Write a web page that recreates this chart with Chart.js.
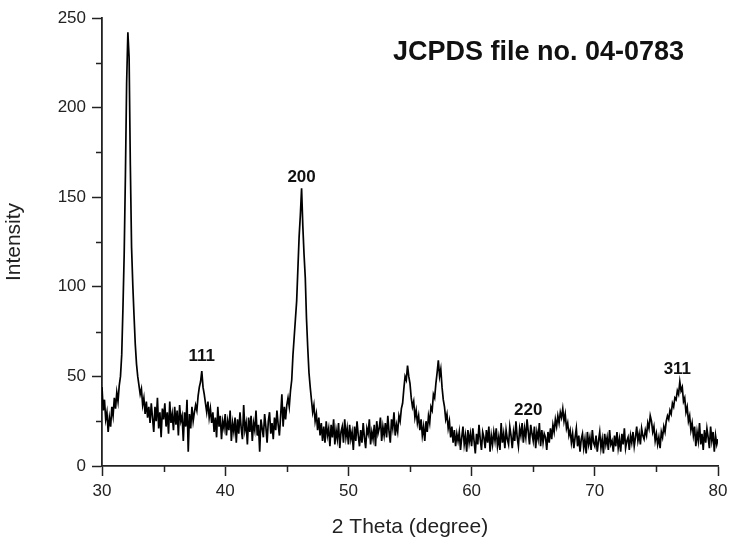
<!DOCTYPE html>
<html>
<head>
<meta charset="utf-8">
<script src="https://cdn.jsdelivr.net/npm/chart.js@4.4.1/dist/chart.umd.min.js"></script>
<style>
  html, body { margin: 0; padding: 0; background: #fff; }
  #wrap { width: 735px; height: 549px; }
</style>
</head>
<body>
<div id="wrap"><canvas id="c" width="735" height="549"></canvas></div>
<script>
// 2-theta sampling: 30.0 .. 80.0 in 0.1 degree steps (one row per degree)
const thetaStart = 30;
const thetaStep = 0.1;

// Intensity values (row = one degree, 10 samples)
const intensity = [
  44, 31, 37, 26, 30, 19, 27, 22, 33, 28,          // 30
  38, 32, 41, 36, 45, 50, 62, 88, 118, 162,        // 31
  214, 242, 228, 168, 122, 101, 84, 68, 57, 50,    // 32
  45, 40, 43, 34, 38, 29, 36, 27, 33, 24,          // 33
  35, 27, 19, 33, 25, 38, 21, 30, 16, 32,          // 34
  26, 35, 22, 30, 18, 36, 24, 29, 20, 33,          // 35
  23, 31, 17, 34, 25, 28, 14, 30, 22, 37,          // 36
  8, 29, 21, 33, 25, 30, 34, 31, 39, 44,           // 37
  47, 53, 44, 40, 35, 30, 36, 27, 32, 24,          // 38
  30, 19, 27, 16, 33, 22, 28, 15, 25, 21,          // 39
  29, 17, 25, 20, 31, 14, 24, 19, 27, 13,          // 40
  26, 18, 30, 21, 15, 34, 20, 24, 12, 27,          // 41
  19, 28, 14, 24, 20, 31, 17, 23, 8, 26,           // 42
  21, 16, 29, 22, 13, 25, 30, 18, 24, 15,          // 43
  27, 20, 31, 23, 17, 28, 40, 22, 33, 26,          // 44
  34, 38, 33, 42, 48, 62, 72, 82, 92, 110,         // 45
  128, 140, 155, 134, 118, 105, 82, 66, 52, 44,    // 46
  37, 30, 34, 25, 29, 20, 27, 17, 24, 14,          // 47
  22, 13, 25, 17, 21, 11, 23, 16, 26, 12,          // 48
  20, 15, 24, 10, 19, 22, 13, 26, 16, 21,          // 49
  12, 23, 15, 19, 9, 22, 14, 25, 17, 11,           // 50
  20, 13, 24, 16, 10, 21, 18, 26, 12, 19,          // 51
  15, 23, 11, 25, 18, 21, 27, 14, 22, 17,          // 52
  24, 16, 28, 19, 13, 26, 21, 30, 17, 23,          // 53
  19, 28, 25, 32, 35, 43, 50, 48, 56, 50,          // 54
  46, 38, 33, 36, 27, 31, 24, 28, 20, 26,          // 55
  17, 22, 14, 25, 19, 28, 24, 33, 31, 40,          // 56
  38, 46, 52, 59, 50, 54, 44, 37, 33, 26,          // 57
  29, 21, 25, 16, 22, 13, 20, 11, 18, 14,          // 58
  19, 9, 16, 22, 12, 17, 8, 20, 13, 18,            // 59
  11, 21, 14, 7, 18, 12, 23, 15, 9, 19,            // 60
  16, 10, 20, 13, 22, 8, 17, 12, 19, 14,           // 61
  21, 11, 16, 9, 24, 13, 18, 10, 20, 15,           // 62
  12, 22, 17, 10, 19, 14, 25, 16, 11, 21,          // 63
  17, 24, 13, 21, 16, 26, 19, 12, 23, 18,          // 64
  14, 22, 10, 19, 15, 24, 11, 20, 13, 18,          // 65
  16, 9, 19, 13, 21, 15, 23, 19, 26, 22,           // 66
  28, 24, 30, 27, 32, 25, 29, 21, 24, 17,          // 67
  20, 13, 18, 10, 16, 21, 11, 17, 8, 15,           // 68
  18, 10, 15, 7, 19, 12, 16, 9, 20, 13,            // 69
  11, 17, 8, 14, 19, 10, 15, 7, 18, 12,            // 70
  16, 9, 20, 12, 14, 8, 17, 11, 19, 10,            // 71
  15, 8, 18, 12, 21, 10, 14, 16, 9, 17,            // 72
  13, 19, 11, 16, 22, 14, 18, 12, 21, 17,          // 73
  15, 20, 17, 24, 21, 28, 25, 19, 22, 14,          // 74
  18, 12, 16, 10, 19, 16, 22, 19, 25, 28,          // 75
  26, 31, 29, 35, 33, 38, 37, 42, 40, 47,          // 76
  42, 44, 36, 38, 30, 33, 25, 28, 20, 24,          // 77
  17, 22, 11, 19, 14, 24, 12, 18, 9, 20,           // 78
  13, 21, 16, 10, 22, 14, 19, 8, 17, 12,           // 79
  15                                               // 80.0
];

const twoTheta = intensity.map((_, i) => +(thetaStart + i * thetaStep).toFixed(1));

// Axis ticks
const xMin = 30, xMax = 80, xMajorStep = 10, xMinorStep = 5;
const yMin = 0, yMax = 250, yMajorStep = 50, yMinorStep = 25;

// Peak (hkl) annotations: label, 2-theta, intensity at label centre
const peakLabels = ['111', '200', '220', '311'];
const peakTheta  = [38.1, 46.2, 64.6, 76.7];
const peakLabelY = [61, 161, 31, 54];

const titleText = 'JCPDS file no. 04-0783';

Chart.defaults.font.family = '"Liberation Sans", Arial, sans-serif';
Chart.defaults.color = '#222';

const AXIS_LEFT = 102, AXIS_BOTTOM = 466;

const extrasPlugin = {
  id: 'extras',
  afterDraw(chart) {
    const ctx = chart.ctx;
    const xs = chart.scales.x, ys = chart.scales.y;
    const area = chart.chartArea;
    ctx.save();
    // minor ticks
    ctx.strokeStyle = '#222';
    ctx.lineWidth = 1.5;
    ctx.beginPath();
    for (let v = yMin; v <= yMax; v += yMinorStep) {
      if (v % yMajorStep === 0) continue;
      const py = Math.round(ys.getPixelForValue(v)) + 0.5;
      ctx.moveTo(area.left - 6, py);
      ctx.lineTo(area.left, py);
    }
    for (let v = xMin; v <= xMax; v += xMinorStep) {
      if (v % xMajorStep === 0) continue;
      const px = Math.round(xs.getPixelForValue(v)) + 0.5;
      ctx.moveTo(px, area.bottom);
      ctx.lineTo(px, area.bottom + 6);
    }
    ctx.stroke();
    // peak labels
    ctx.fillStyle = '#111';
    ctx.font = 'bold 17px "Liberation Sans", Arial, sans-serif';
    ctx.textAlign = 'center';
    ctx.textBaseline = 'middle';
    peakLabels.forEach((t, i) => {
      ctx.fillText(t, xs.getPixelForValue(peakTheta[i]), ys.getPixelForValue(peakLabelY[i]));
    });
    // JCPDS label
    ctx.font = 'bold 27px "Liberation Sans", Arial, sans-serif';
    ctx.textAlign = 'left';
    ctx.textBaseline = 'alphabetic';
    ctx.fillText(titleText, 393, 60);
    ctx.restore();
  }
};

new Chart(document.getElementById('c'), {
  type: 'line',
  data: {
    datasets: [{
      data: twoTheta.map((x, i) => ({ x: x, y: intensity[i] })),
      borderColor: '#000',
      borderWidth: 1.7,
      pointRadius: 0,
      tension: 0,
      fill: false
    }]
  },
  options: {
    responsive: false,
    animation: false,
    events: [],
    layout: { padding: { left: 0, right: 17, top: 18, bottom: 0 } },
    plugins: { legend: { display: false }, tooltip: { enabled: false } },
    scales: {
      x: {
        type: 'linear',
        min: xMin, max: xMax,
        afterFit: (s) => { s.height = 549 - AXIS_BOTTOM; },
        border: { display: true, color: '#222', width: 1.8 },
        grid: {
          drawOnChartArea: false, drawTicks: true, tickLength: 10,
          tickWidth: 1.5,
          tickColor: (c) => (c.tick && c.tick.value % xMajorStep === 0) ? '#222' : 'rgba(0,0,0,0)'
        },
        ticks: {
          stepSize: xMinorStep,
          padding: 5,
          color: '#222',
          font: { size: 17 },
          maxRotation: 0,
          callback: (v) => (v % xMajorStep === 0 ? String(v) : '')
        },
        title: {
          display: true, text: '2 Theta (degree)', color: '#222',
          font: { size: 21 }, padding: { top: 0, bottom: 9 }
        }
      },
      y: {
        min: yMin, max: yMax,
        afterFit: (s) => { s.width = AXIS_LEFT; },
        border: { display: true, color: '#222', width: 1.8 },
        grid: {
          drawOnChartArea: false, drawTicks: true, tickLength: 10,
          tickWidth: 1.5,
          tickColor: (c) => (c.tick && c.tick.value % yMajorStep === 0) ? '#222' : 'rgba(0,0,0,0)'
        },
        ticks: {
          stepSize: yMinorStep,
          padding: 6,
          color: '#222',
          font: { size: 17 },
          callback: (v) => (v % yMajorStep === 0 ? String(v) : '')
        },
        title: {
          display: true, text: 'Intensity', color: '#222',
          font: { size: 21 }, padding: { top: 2, bottom: 0 }
        }
      }
    }
  },
  plugins: [extrasPlugin]
});
</script>
</body>
</html>
